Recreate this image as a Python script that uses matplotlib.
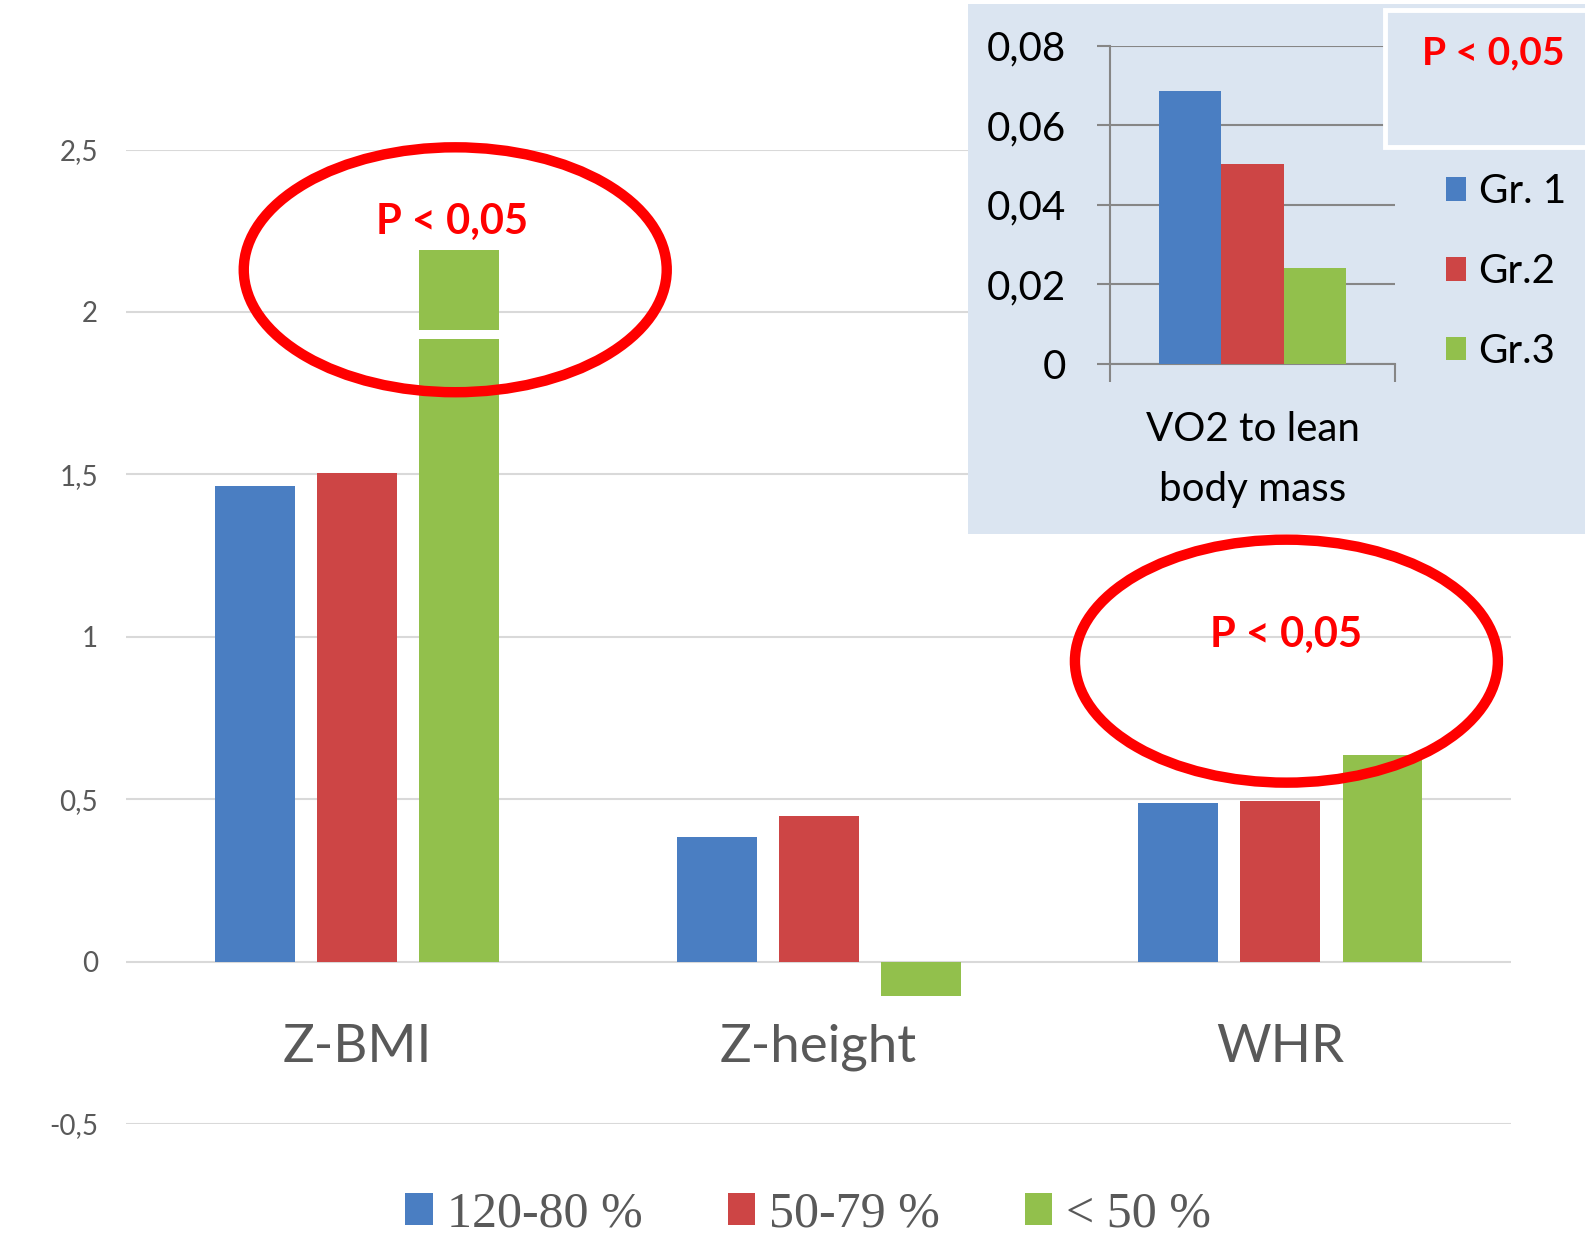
import matplotlib
matplotlib.use('Agg')
import matplotlib.pyplot as plt
from matplotlib.patches import Ellipse, Rectangle, Patch
import numpy as np

# ---------------- data ----------------
categories = ['Z-BMI', 'Z-height', 'WHR']
series_names = ['120-80 %', '50-79 %', '< 50 %']
vals_120_80 = [1.465, 0.385, 0.487]
vals_50_79 = [1.505, 0.449, 0.495]
vals_lt50 = [2.19, -0.106, 0.637]
yticks = [-0.5, 0, 0.5, 1, 1.5, 2, 2.5]
ytick_labels = ['-0,5', '0', '0,5', '1', '1,5', '2', '2,5']
break_low, break_high = 1.917, 1.945   # axis-break gap drawn in the tall bar

inset_groups = ['Gr. 1', 'Gr.2', 'Gr.3']
inset_values = [0.0686, 0.0503, 0.0241]
inset_category = 'VO2 to lean\nbody mass'
inset_yticks = [0, 0.02, 0.04, 0.06, 0.08]
inset_ytick_labels = ['0', '0,02', '0,04', '0,06', '0,08']
p_label = 'P < 0,05'

# ---------------- style ----------------
colors = ['#4a7ec2', '#cd4545', '#92c04c']
gray_txt = '#595959'
plt.rcParams['font.family'] = ['Lato', 'DejaVu Sans']

fig = plt.figure(figsize=(15.85, 12.57), dpi=100)
fig.patch.set_facecolor('white')

# ---------------- main chart ----------------
ax = fig.add_axes([0.0795, 0.1058, 0.874, 0.7752])
x = np.arange(len(categories))
width = 0.173
offsets = [-0.221, 0.0, 0.221]
series = [vals_120_80, vals_50_79, vals_lt50]
for s, (vals, off, col) in enumerate(zip(series, offsets, colors)):
    for i, v in enumerate(vals):
        if v > break_high:
            ax.bar(x[i] + off, break_low, width, color=col, zorder=3)
            ax.bar(x[i] + off, v - break_high, width, bottom=break_high, color=col, zorder=3)
        else:
            ax.bar(x[i] + off, v, width, color=col, zorder=3)

ax.set_xlim(-0.5, 2.5)
ax.set_ylim(-0.5, 2.5)
ax.set_yticks(yticks, ytick_labels)
ax.set_xticks([])
ax.grid(axis='y', color='#d9d9d9', linewidth=1.5, zorder=0)
ax.set_axisbelow(True)
for sp in ax.spines.values():
    sp.set_visible(False)
ax.tick_params(axis='y', length=0, pad=20, labelsize=20, labelcolor=gray_txt)

for i, c in enumerate(categories):
    ax.text(x[i], -0.265, c, ha='center', va='center', fontsize=38, color=gray_txt)

# significance annotations
ax.add_patch(Ellipse((0.213, 2.13), 0.916, 0.754, fill=False, edgecolor='#ff0000',
                     linewidth=7.5, zorder=5, clip_on=False))
ax.add_patch(Ellipse((2.013, 0.925), 0.916, 0.748, fill=False, edgecolor='#ff0000',
                     linewidth=7.5, zorder=5, clip_on=False))
ax.text(0.206, 2.277, p_label, ha='center', va='center', fontsize=30,
        fontweight='bold', color='#ff0000', zorder=6)
ax.text(2.013, 1.005, p_label, ha='center', va='center', fontsize=30,
        fontweight='bold', color='#ff0000', zorder=6)

# main legend
handles = [Patch(facecolor=c, edgecolor='none') for c in colors]
fig.legend(handles, series_names, loc='center', bbox_to_anchor=(0.51, 0.034),
           ncol=3, frameon=False, prop={'family': 'Liberation Serif', 'size': 36},
           handlelength=0.55, handleheight=0.6, handletextpad=0.28,
           columnspacing=1.7, labelcolor=gray_txt)

# ---------------- inset ----------------
bg = Rectangle((0.611, 0.575), 0.4, 0.422, transform=fig.transFigure,
               facecolor='#dbe5f1', edgecolor='none', zorder=1)
fig.patches.append(bg)

axi = fig.add_axes([0.7003, 0.7104, 0.1798, 0.2534], zorder=2)
axi.patch.set_alpha(0)
iw = 0.218
ioff = [-0.218, 0.0, 0.218]
for v, off, col in zip(inset_values, ioff, colors):
    axi.bar(off, v, iw, color=col, zorder=3)
axi.set_xlim(-0.5, 0.5)
axi.set_ylim(0, 0.08)
axi.set_yticks(inset_yticks, inset_ytick_labels)
axi.grid(axis='y', color='#868686', linewidth=1.5, zorder=0)
axi.set_axisbelow(True)
axi.spines['top'].set_visible(False)
axi.spines['right'].set_visible(False)
axi.spines['left'].set_color('#868686')
axi.spines['bottom'].set_color('#868686')
axi.spines['left'].set_linewidth(1.5)
axi.spines['bottom'].set_linewidth(1.5)
axi.tick_params(axis='y', length=9.5, width=1.5, color='#868686', pad=22,
                labelsize=29, labelcolor='black')
axi.set_xticks([0], [inset_category])
axi.set_xticks([-0.5, 0.5], minor=True)
axi.tick_params(axis='x', which='major', length=0, pad=34, labelsize=29,
                labelcolor='black')
axi.tick_params(axis='x', which='minor', length=13, width=1.5, color='#868686')
for lab in axi.get_xticklabels():
    lab.set_linespacing(1.75)

# P box
pbox = Rectangle((0.874, 0.883), 0.14, 0.109, transform=fig.transFigure,
                 facecolor='#dbe5f1', edgecolor='white', linewidth=3.5, zorder=3)
fig.patches.append(pbox)
fig.text(0.942, 0.958, p_label, ha='center', va='center', fontsize=28,
         fontweight='bold', color='#ff0000', zorder=4)

# inset legend
ihandles = [Patch(facecolor=c, edgecolor='none') for c in colors]
fig.legend(ihandles, inset_groups, loc='upper left', bbox_to_anchor=(0.912, 0.862),
           frameon=False, fontsize=29, handlelength=0.52, handleheight=0.52,
           handletextpad=0.3, labelspacing=1.06, borderpad=0, borderaxespad=0,
           labelcolor='black')

fig.savefig('out.png', dpi=100)
